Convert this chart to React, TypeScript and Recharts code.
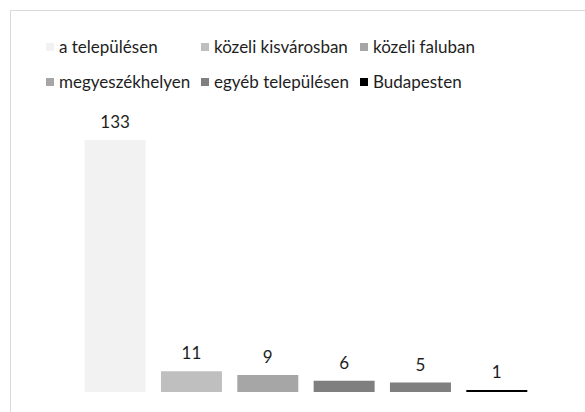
import { BarChart, Bar, XAxis, YAxis, Cell, LabelList } from "recharts"

const categories = ["a településen", "közeli kisvárosban", "közeli faluban", "megyeszékhelyen", "egyéb településen", "Budapesten"]
const values = [133, 11, 9, 6, 5, 1]
const barColors = ["#f2f2f2", "#bfbfbf", "#a6a6a6", "#7f7f7f", "#7f7f7f", "#000000"]
const legendColors = ["#f2f2f2", "#bfbfbf", "#a6a6a6", "#a6a6a6", "#7f7f7f", "#000000"]

const FONT = "Lato, 'Liberation Sans', sans-serif"
const TEXT = "#1e1e1e"

function ChartLegend() {
  const rows = [categories.slice(0, 3), categories.slice(3)]
  const widths = [155, 159, 150]
  return (
    <div style={{ position: "absolute", left: 46, top: 29, fontFamily: FONT, fontSize: 17, color: TEXT }}>
      {rows.map((row, r) => (
        <div key={r} style={{ display: "flex", height: 35, alignItems: "center" }}>
          {row.map((name, i) => {
            const idx = r * 3 + i
            return (
              <div key={name} style={{ display: "flex", alignItems: "center", width: widths[i] }}>
                <span style={{ display: "inline-block", width: 8, height: 8, background: legendColors[idx], marginRight: 5 }} />
                <span>{name}</span>
              </div>
            )
          })}
        </div>
      ))}
    </div>
  )
}

export default function App() {
  const data = categories.map((name, i) => ({ name, value: values[i] }))

  return (
    <div style={{ position: "absolute", left: 0, top: 0, width: 585, height: 412, background: "#fff", overflow: "hidden" }}>
      <div style={{ position: "absolute", left: 10, top: 10, right: -5, bottom: -5, borderLeft: "1.5px solid #d9d9d9", borderTop: "1.5px solid #d9d9d9" }} />
      <ChartLegend />
      <BarChart width={585} height={412} data={data} margin={{ top: 140, right: 50, bottom: 20, left: 77 }} barCategoryGap="10%">
        <XAxis dataKey="name" hide />
        <YAxis domain={[0, 133]} hide />
        <Bar dataKey="value" isAnimationActive={false}>
          {data.map((d, i) => (
            <Cell key={d.name} fill={barColors[i]} />
          ))}
          <LabelList dataKey="value" position="top" offset={12} style={{ fontFamily: FONT, fontSize: 17, fill: TEXT }} />
        </Bar>
      </BarChart>
    </div>
  )
}
